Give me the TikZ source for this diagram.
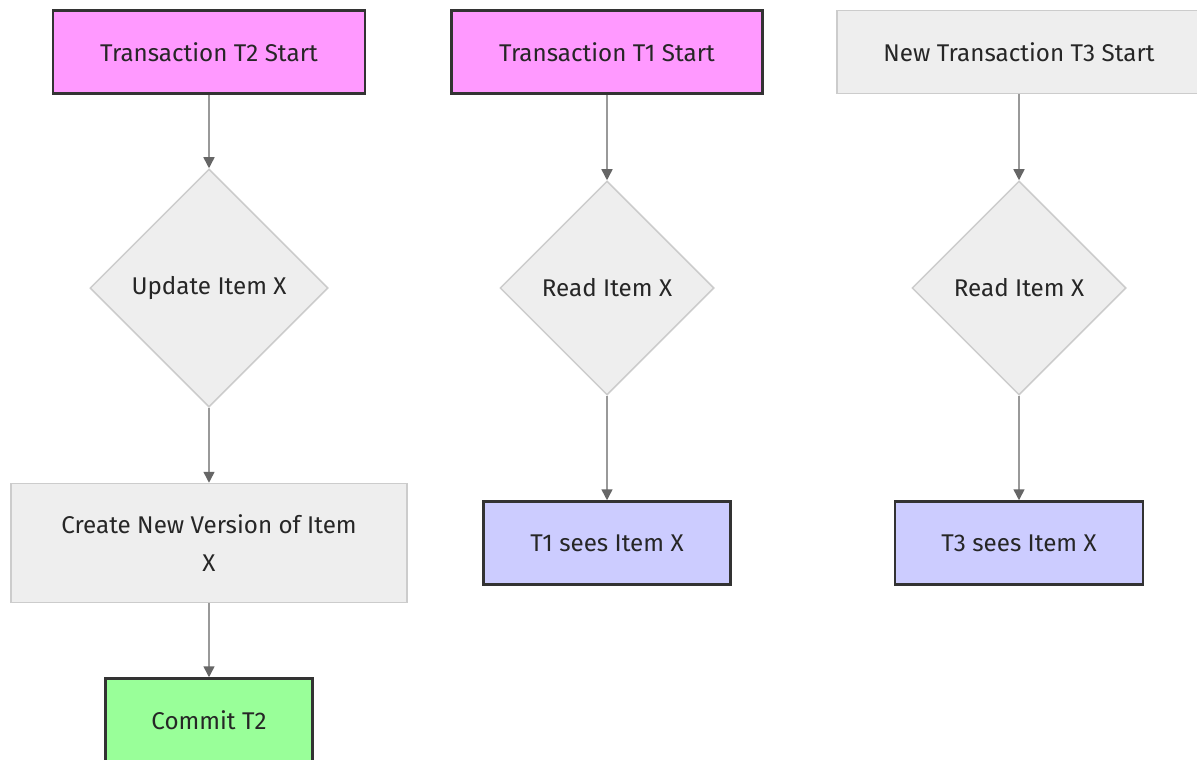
\documentclass[tikz,border=0pt]{standalone}
\usepackage{fontspec}
\setmainfont{Fira Sans}
\usetikzlibrary{shapes.geometric,arrows.meta}

\definecolor{startpink}{HTML}{FF99FF}
\definecolor{seesblue}{HTML}{CCCCFF}
\definecolor{commitgreen}{HTML}{99FF99}
\definecolor{plaingray}{HTML}{EEEEEE}
\definecolor{edgegray}{HTML}{CCCCCC}
\definecolor{darkline}{HTML}{333333}
\definecolor{flowgray}{HTML}{999999}
\definecolor{tipgray}{HTML}{666666}

\tikzset{
  every node/.style={font=\fontsize{24.2}{38}\selectfont, text=black!85},
  strongbox/.style={draw=darkline, line width=2.5pt, rectangle, minimum height=83pt},
  plainbox/.style={draw=edgegray, fill=plaingray, line width=1.5pt, rectangle, minimum height=83pt},
  choice/.style={draw=edgegray, fill=plaingray, line width=1.5pt, diamond, aspect=1},
  flow/.style={draw=flowgray, line width=1.5pt, -{Triangle[length=11pt,width=11pt,color=tipgray]}}
}

\begin{document}
\begin{tikzpicture}[x=1pt,y=-1pt]
        \clip (0,0) rectangle (1197,760) ;
        \fill[white] (0,0) rectangle (1197,760) ;

        \node[strongbox, fill=startpink, minimum width=312pt] (t2start) at (209,52) {Transaction T2 Start} ;
        \node[choice, minimum width=238pt, minimum height=238pt] (t2update) at (209,288) {Update Item X} ;
        \node[plainbox, minimum width=396pt, minimum height=119pt, align=center] (t2version) at (209,543) {Create New Version of Item\\X} ;
        \node[strongbox, fill=commitgreen, minimum width=207pt] (t2commit) at (209,720) {Commit T2} ;
        \draw[flow] (t2start) -- (t2update) ;
        \draw[flow] (t2update) -- (t2version) ;
        \draw[flow] (t2version) -- (t2commit) ;

        \node[strongbox, fill=startpink, minimum width=311pt] (t1start) at (607,52) {Transaction T1 Start} ;
        \node[choice, minimum width=214pt, minimum height=214pt] (t1read) at (607,288) {Read Item X} ;
        \node[strongbox, fill=seesblue, minimum width=247pt] (t1sees) at (607,543) {T1 sees Item X} ;
        \draw[flow] (t1start) -- (t1read) ;
        \draw[flow] (t1read) -- (t1sees) ;

        \node[plainbox, minimum width=364pt] (t3start) at (1019,52) {New Transaction T3 Start} ;
        \node[choice, minimum width=214pt, minimum height=214pt] (t3read) at (1019,288) {Read Item X} ;
        \node[strongbox, fill=seesblue, minimum width=248pt] (t3sees) at (1019,543) {T3 sees Item X} ;
        \draw[flow] (t3start) -- (t3read) ;
        \draw[flow] (t3read) -- (t3sees) ;
\end{tikzpicture}
\end{document}
